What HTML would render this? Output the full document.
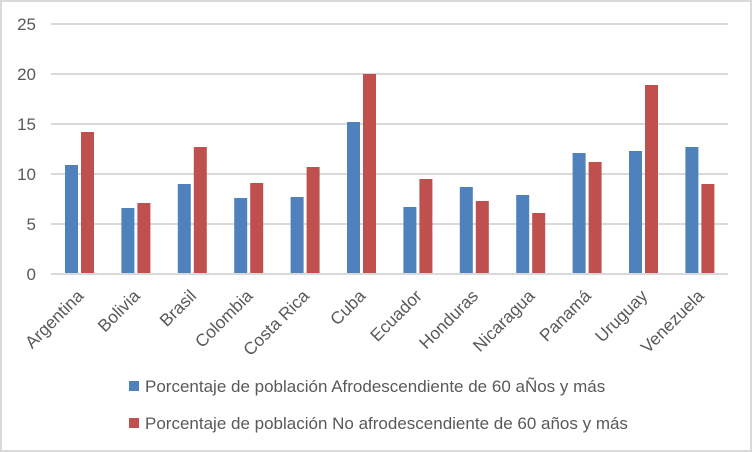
<!DOCTYPE html>
<html><head><meta charset="utf-8"><style>
html,body{margin:0;padding:0;background:#fff}
svg{display:block}
text{font-family:"Liberation Sans",sans-serif;fill:#595959}
</style></head><body>
<svg width="752" height="452" viewBox="0 0 752 452">
<rect x="1" y="1" width="750" height="450" fill="#fff" stroke="#d9d9d9" stroke-width="2"/>
<g stroke="#d9d9d9" stroke-width="2">
<line x1="51" y1="24" x2="728" y2="24"/>
<line x1="51" y1="74" x2="728" y2="74"/>
<line x1="51" y1="124" x2="728" y2="124"/>
<line x1="51" y1="174" x2="728" y2="174"/>
<line x1="51" y1="224" x2="728" y2="224"/>
<line x1="51" y1="274" x2="728" y2="274"/>
</g>
<g font-size="17" text-anchor="end">
<text x="36" y="30">25</text><text x="36" y="80">20</text><text x="36" y="130">15</text>
<text x="36" y="180">10</text><text x="36" y="230">5</text><text x="36" y="280">0</text>
</g>
<g id="bars"></g>
<g id="labels" font-size="17.3" text-anchor="end"></g>
<rect x="129" y="381" width="10" height="10" fill="#4f81bd"/>
<text x="145" y="392" font-size="17">Porcentaje de población Afrodescendiente de 60 aÑos y más</text>
<rect x="129" y="418" width="10" height="10" fill="#c0504d"/>
<text x="145" y="429" font-size="17">Porcentaje de población No afrodescendiente de 60 años y más</text>
</svg>
<script>
var d=[["Argentina",10.9,14.2],["Bolivia",6.6,7.1],["Brasil",9.0,12.7],["Colombia",7.6,9.1],["Costa Rica",7.7,10.7],["Cuba",15.2,20.0],["Ecuador",6.7,9.5],["Honduras",8.7,7.3],["Nicaragua",7.9,6.1],["Panamá",12.1,11.2],["Uruguay",12.3,18.9],["Venezuela",12.7,9.0]];
var ns="http://www.w3.org/2000/svg",b=document.getElementById("bars"),l=document.getElementById("labels");
d.forEach(function(r,i){var c=51.3+56.4*(i+0.5);
[[r[1],c-14.5,"#4f81bd"],[r[2],c+1.5,"#c0504d"]].forEach(function(v){var e=document.createElementNS(ns,"rect");
e.setAttribute("x",v[1]);e.setAttribute("width",13);e.setAttribute("y",274-v[0]*10);e.setAttribute("height",v[0]*10-1);e.setAttribute("fill",v[2]);b.appendChild(e);});
var t=document.createElementNS(ns,"text");t.setAttribute("transform","translate("+(c+5)+",297) rotate(-45)");t.textContent=r[0];l.appendChild(t);});
</script>
</body></html>
